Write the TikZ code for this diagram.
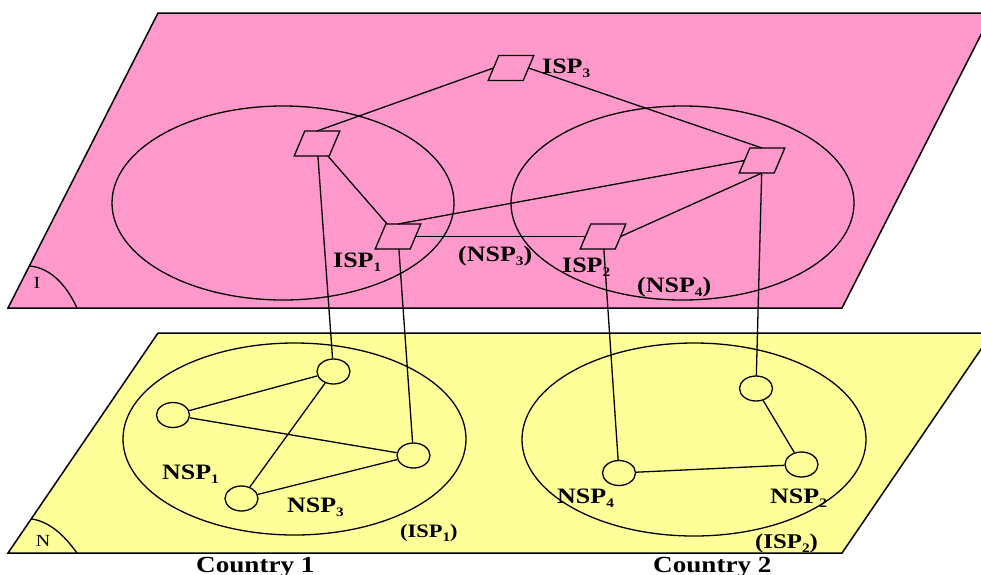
\documentclass[tikz,border=0pt]{standalone}
\usepackage{fontspec}
\setmainfont{Liberation Serif}
\usepackage{graphicx}
\usetikzlibrary{shapes.geometric}
\definecolor{pinkplane}{RGB}{255,153,204}
\definecolor{yellowplane}{RGB}{255,255,153}
\newcommand{\lbl}[2]{\scalebox{1.18}[1]{\fontsize{#1}{#1}\selectfont\bfseries #2}}
\newcommand{\sbs}[1]{\raisebox{-0.22em}{\fontsize{13}{13}\selectfont #1}}
\begin{document}
\begin{tikzpicture}[x=1pt,y=-1pt,
  ispbox/.style={trapezium, trapezium left angle=67, trapezium right angle=113,
    inner xsep=12.2pt, inner ysep=12.5pt, outer sep=0pt,
    draw, fill=pinkplane, line width=1.3pt},
  nspnode/.style={ellipse, draw, fill=yellowplane, minimum width=33pt,
    minimum height=25pt, inner sep=0pt, line width=1.3pt},
  link/.style={line width=1.3pt},
  plane/.style={draw, line width=1.5pt},
  lab/.style={anchor=base west, inner sep=0pt}]
\useasboundingbox (0,0) rectangle (981,574);
\clip (0,0) rectangle (981,574);
% top plane
\path[plane, fill=pinkplane] (158,13) -- (992,13) -- (842,308) -- (8,308) -- cycle;
\draw[link] (283,203) ellipse [x radius=171, y radius=97];
\draw[link] (682.5,203) ellipse [x radius=171.5, y radius=97];
\draw[link] (30,266) .. controls (50,268) and (66,284) .. (77,308);
\node (lI) at (37,283) {\scalebox{1.18}[1]{\fontsize{17}{17}\selectfont I}};
% bottom plane
\path[plane, fill=yellowplane] (158,333) -- (992,333) -- (842,553) -- (8,553) -- cycle;
\draw[link] (294.5,439) ellipse [x radius=171.5, y radius=96];
\draw[link] (694,439.5) ellipse [x radius=172, y radius=96.5];
\draw[link] (32,519) .. controls (50,522) and (64,535) .. (77,553);
\node (lN) at (43,541) {\scalebox{1.18}[1]{\fontsize{17}{17}\selectfont N}};
% ISP boxes
\node[ispbox] (isp3) at (511,68) {\rule{0pt}{0pt}};
\node[ispbox] (ul) at (317,143.5) {\rule{0pt}{0pt}};
\node[ispbox] (isp1) at (398,236.5) {\rule{0pt}{0pt}};
\node[ispbox] (ur) at (762,160.5) {\rule{0pt}{0pt}};
\node[ispbox] (isp2) at (603,236.5) {\rule{0pt}{0pt}};
% NSP nodes
\node[nspnode] (c1) at (333.5,371.5) {};
\node[nspnode] (c2) at (173,415) {};
\node[nspnode] (c3) at (413.5,455.5) {};
\node[nspnode] (c4) at (241.5,498.5) {};
\node[nspnode] (d1) at (756,388.5) {};
\node[nspnode] (d2) at (801.5,464.5) {};
\node[nspnode] (d3) at (619,473) {};
% top links
\draw[link] (isp3.west) -- (ul.north);
\draw[link] (isp3.east) -- (ur.north);
\draw[link] (ul) -- (isp1);
\draw[link] (isp1.north) -- (ur.west);
\draw[link] (isp1) -- (isp2);
\draw[link] (isp2.east) -- (ur.south);
% vertical links
\draw[link] (ul) -- (c1);
\draw[link] (isp1) -- (c3);
\draw[link] (isp2) -- (d3);
\draw[link] (ur) -- (d1);
% bottom links
\draw[link] (c2) -- (c1);
\draw[link] (c2) -- (c3);
\draw[link] (c1) -- (c4);
\draw[link] (c4) -- (c3);
\draw[link] (d1) -- (d2);
\draw[link] (d3) -- (d2);
% labels
\node[lab] (t1) at (542,73) {\lbl{22}{ISP\sbs{3}}};
\node[lab] (t2) at (333,267) {\lbl{22}{ISP\sbs{1}}};
\node[lab] (t3) at (458,261) {\lbl{22}{(NSP\sbs{3})}};
\node[lab] (t4) at (562,272) {\lbl{22}{ISP\sbs{2}}};
\node[lab] (t5) at (637,292) {\lbl{22}{(NSP\sbs{4})}};
\node[lab] (t6) at (162,479) {\lbl{22}{NSP\sbs{1}}};
\node[lab] (t7) at (287,512) {\lbl{22}{NSP\sbs{3}}};
\node[lab] (t8) at (400,537) {\lbl{19}{(ISP\sbs{1})}};
\node[lab] (t9) at (557,503) {\lbl{22}{NSP\sbs{4}}};
\node[lab] (t10) at (770,503) {\lbl{22}{NSP\sbs{2}}};
\node[lab] (t11) at (755,548) {\lbl{21}{(ISP\sbs{2})}};
\node[lab] (t12) at (196,572) {\lbl{23}{Country 1}};
\node[lab] (t13) at (653,572) {\lbl{23}{Country 2}};
\end{tikzpicture}
\end{document}
